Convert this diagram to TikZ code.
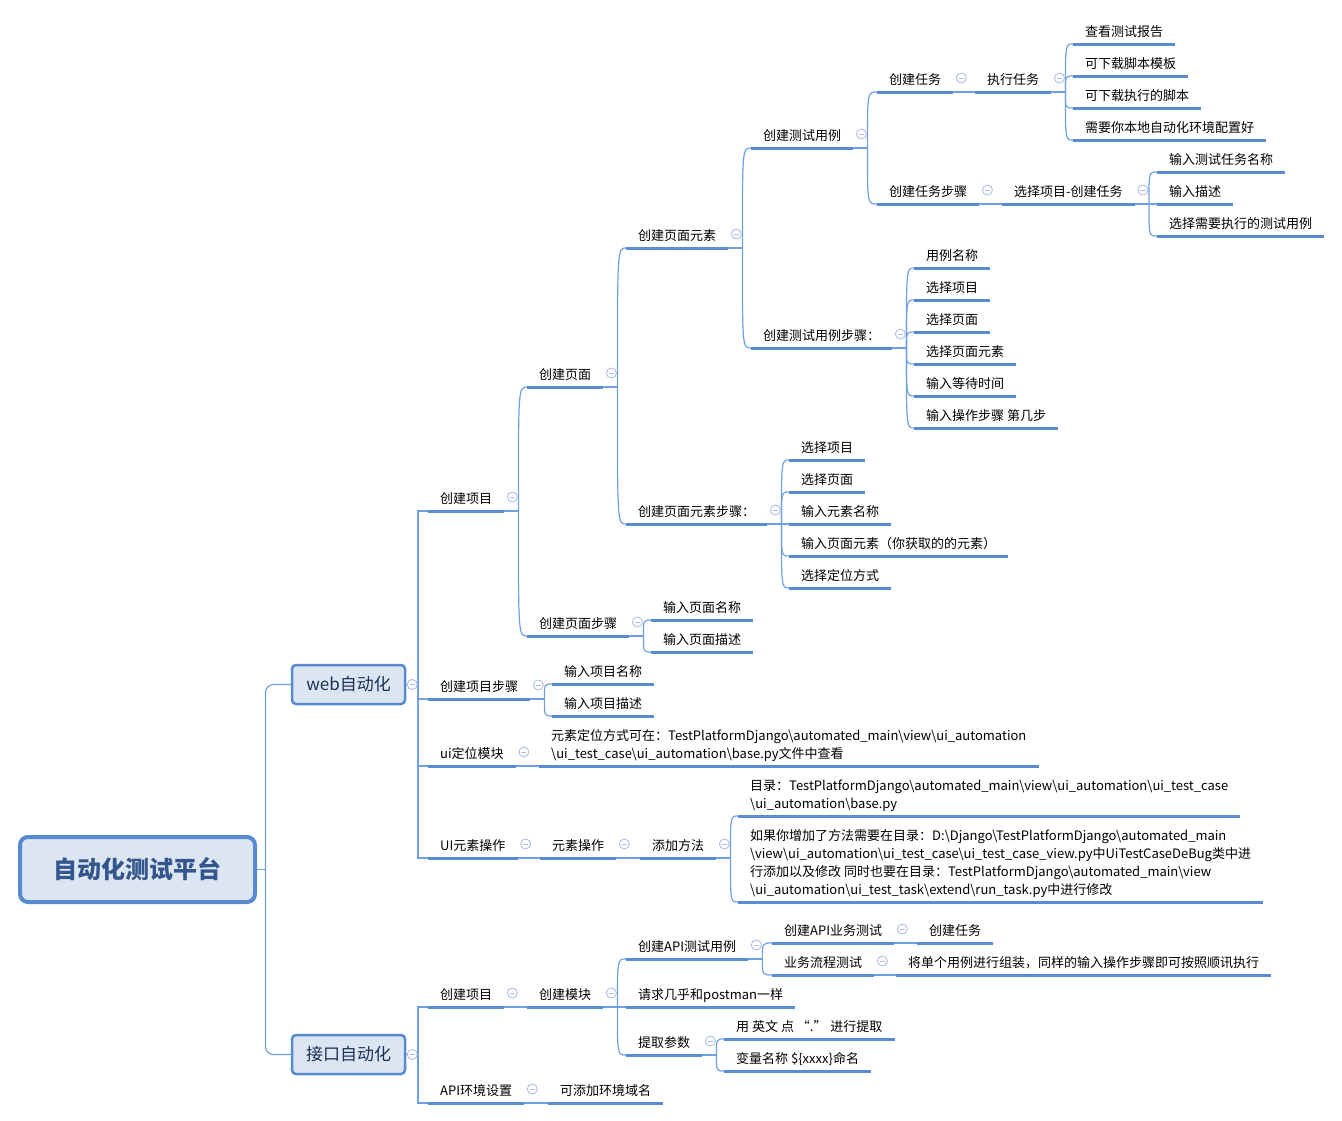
\documentclass[tikz,border=0pt]{standalone}
\usepackage{fontspec}
\setmainfont{Noto Sans CJK SC}
\usetikzlibrary{calc,backgrounds}
\definecolor{ulc}{RGB}{88,140,212}
\definecolor{lnc}{RGB}{112,160,226}
\definecolor{boxfill}{RGB}{220,230,243}
\definecolor{boxline}{RGB}{88,138,208}
\definecolor{boxtext}{RGB}{26,48,84}
\definecolor{roottext}{RGB}{52,86,140}
\definecolor{iconc}{RGB}{176,188,232}
\newcommand\mmbs{\textbackslash}
\newcommand\mmlines[1]{\begin{tabular}[b]{@{}l@{}}#1\end{tabular}}
\newcommand\mmbranch[2]{%
  \coordinate (#1-b) at ([shift={(14,0)}]#1.south east);
  \begin{pgfonlayer}{background}
  \draw[conn] (#1.south east) -- (#1-b);
  \foreach \c in {#2}{\draw[conn] (#1-b) .. controls (#1-b |- \c.south west) and (#1-b |- \c.south west) .. (\c.south west);}
  \end{pgfonlayer}
  \node[icon] (#1-i) at ([shift={(8,-14)}]#1.south east) {};
}
\tikzset{
  conn/.style={draw=lnc, line width=1.2pt},
  ul/.style={draw=ulc, line width=3pt},
  topic/.style={anchor=south west, inner xsep=12pt, inner ysep=0pt, text depth=7.5pt,
    font=\fontsize{13}{18}\selectfont,
    append after command={(\tikzlastnode.south west) edge[ul] (\tikzlastnode.south east)}},
  mbox/.style={draw=boxline, fill=boxfill, line width=2.5pt, rounded corners=4pt,
    minimum width=113pt, minimum height=39pt, inner sep=0pt,
    font=\fontsize{17}{20}\selectfont, text=boxtext},
  rootbox/.style={draw=boxline, fill=boxfill, line width=4pt, rounded corners=8pt,
    minimum width=235pt, minimum height=65pt, inner sep=0pt,
    font=\fontsize{24}{28}\selectfont\bfseries, text=roottext},
  icon/.style={circle, draw=iconc, fill=white, line width=0.9pt, minimum size=10pt, inner sep=0pt,
    path picture={\draw[iconc, line width=0.9pt] ([xshift=-2.6pt]path picture bounding box.center) -- ([xshift=2.6pt]path picture bounding box.center);}}
}
\begin{document}
\begin{tikzpicture}[x=1pt,y=-1pt]
\useasboundingbox (0,0) rectangle (1342,1120);
\node[rootbox] (root) at (137.5,869.5) {自动化测试平台};
\node[mbox] (web) at (348.5,684.5) {web自动化};
\node[mbox] (api) at (348.5,1054.5) {接口自动化};

% web branch
\node[topic] (p1) at (428,511) {创建项目};
\node[topic] (p1a) at (527,387) {创建页面};
\node[topic] (p1a1) at (626,248) {创建页面元素};
\node[topic] (tc) at (751,148) {创建测试用例};
\node[topic] (ct) at (877,92) {创建任务};
\node[topic] (et) at (975,92) {执行任务};
\node[topic] (et1) at (1073,44) {查看测试报告};
\node[topic] (et2) at (1073,76) {可下载脚本模板};
\node[topic] (et3) at (1073,108) {可下载执行的脚本};
\node[topic] (et4) at (1073,140) {需要你本地自动化环境配置好};
\node[topic] (cts) at (877,204) {创建任务步骤};
\node[topic] (sel) at (1002,204) {选择项目-创建任务};
\node[topic] (sel1) at (1157,172) {输入测试任务名称};
\node[topic] (sel2) at (1157,204) {输入描述};
\node[topic] (sel3) at (1157,236) {选择需要执行的测试用例};
\node[topic] (tcs) at (751,348) {创建测试用例步骤：};
\node[topic] (tcs1) at (914,268) {用例名称};
\node[topic] (tcs2) at (914,300) {选择项目};
\node[topic] (tcs3) at (914,332) {选择页面};
\node[topic] (tcs4) at (914,364) {选择页面元素};
\node[topic] (tcs5) at (914,396) {输入等待时间};
\node[topic] (tcs6) at (914,428) {输入操作步骤 第几步};
\node[topic] (pes) at (626,524) {创建页面元素步骤：};
\node[topic] (pes1) at (789,460) {选择项目};
\node[topic] (pes2) at (789,492) {选择页面};
\node[topic] (pes3) at (789,524) {输入元素名称};
\node[topic] (pes4) at (789,556) {输入页面元素（你获取的的元素）};
\node[topic] (pes5) at (789,588) {选择定位方式};
\node[topic] (ps) at (527,636) {创建页面步骤};
\node[topic] (ps1) at (651,620) {输入页面名称};
\node[topic] (ps2) at (651,652) {输入页面描述};
\node[topic] (p2) at (428,699) {创建项目步骤};
\node[topic] (p2a) at (552,684) {输入项目名称};
\node[topic] (p2b) at (552,716) {输入项目描述};
\node[topic] (p3) at (428,766) {ui定位模块};
\node[topic] (p3a) at (539,766) {\mmlines{元素定位方式可在：TestPlatformDjango\mmbs automated\_main\mmbs view\mmbs ui\_automation\\
\mmbs ui\_test\_case\mmbs ui\_automation\mmbs base.py文件中查看}};
\node[topic] (p4) at (428,858) {UI元素操作};
\node[topic] (p4a) at (540,858) {元素操作};
\node[topic] (p4b) at (640,858) {添加方法};
\node[topic] (p4b1) at (738,816) {\mmlines{目录：TestPlatformDjango\mmbs automated\_main\mmbs view\mmbs ui\_automation\mmbs ui\_test\_case\\
\mmbs ui\_automation\mmbs base.py}};
\node[topic] (p4b2) at (738,902) {\mmlines{如果你增加了方法需要在目录：D:\mmbs Django\mmbs TestPlatformDjango\mmbs automated\_main\\
\mmbs view\mmbs ui\_automation\mmbs ui\_test\_case\mmbs ui\_test\_case\_view.py中UiTestCaseDeBug类中进\\
行添加以及修改 同时也要在目录：TestPlatformDjango\mmbs automated\_main\mmbs view\\
\mmbs ui\_automation\mmbs ui\_test\_task\mmbs extend\mmbs run\_task.py中进行修改}};

% api branch
\node[topic] (q1) at (428,1007) {创建项目};
\node[topic] (q1a) at (527,1007) {创建模块};
\node[topic] (q11) at (626,959) {创建API测试用例};
\node[topic] (q111) at (772,943) {创建API业务测试};
\node[topic] (q1111) at (917,943) {创建任务};
\node[topic] (q112) at (772,975) {业务流程测试};
\node[topic] (q1121) at (896,975) {将单个用例进行组装，同样的输入操作步骤即可按照顺讯执行};
\node[topic] (q12) at (626,1007) {请求几乎和postman一样};
\node[topic] (q13) at (626,1055) {提取参数};
\node[topic] (q131) at (724,1039) {用 英文 点 “.” 进行提取};
\node[topic] (q132) at (724,1071) {变量名称 \$\{xxxx\}命名};
\node[topic] (q2) at (428,1103) {API环境设置};
\node[topic] (q2a) at (548,1103) {可添加环境域名};

% root connectors
\coordinate (rb) at (265.5,869.5);
\coordinate (wb) at (418,684.5);
\coordinate (ab) at (418,1054.5);
\begin{pgfonlayer}{background}
\draw[conn] (root.east) -- (rb);
\draw[conn, rounded corners=8pt] (rb) |- (web.west);
\draw[conn, rounded corners=8pt] (rb) |- (api.west);
\draw[conn] (web.east) -- (wb);
\foreach \c in {p1,p2,p3,p4} {\draw[conn] (wb) |- (\c.south west);}
\draw[conn] (api.east) -- (ab);
\foreach \c in {q1,q2} {\draw[conn] (ab) |- (\c.south west);}
\end{pgfonlayer}
\node[icon] (web-i) at ([xshift=6pt]web.east) {};
\node[icon] (api-i) at ([xshift=6pt]api.east) {};

\mmbranch{p1}{p1a,ps}
\mmbranch{p1a}{p1a1,pes}
\mmbranch{p1a1}{tc,tcs}
\mmbranch{tc}{ct,cts}
\mmbranch{ct}{et}
\mmbranch{et}{et1,et2,et3,et4}
\mmbranch{cts}{sel}
\mmbranch{sel}{sel1,sel2,sel3}
\mmbranch{tcs}{tcs1,tcs2,tcs3,tcs4,tcs5,tcs6}
\mmbranch{pes}{pes1,pes2,pes3,pes4,pes5}
\mmbranch{ps}{ps1,ps2}
\mmbranch{p2}{p2a,p2b}
\mmbranch{p3}{p3a}
\mmbranch{p4}{p4a}
\mmbranch{p4a}{p4b}
\mmbranch{p4b}{p4b1,p4b2}
\mmbranch{q1}{q1a}
\mmbranch{q1a}{q11,q12,q13}
\mmbranch{q11}{q111,q112}
\mmbranch{q111}{q1111}
\mmbranch{q112}{q1121}
\mmbranch{q13}{q131,q132}
\mmbranch{q2}{q2a}
\end{tikzpicture}
\end{document}
